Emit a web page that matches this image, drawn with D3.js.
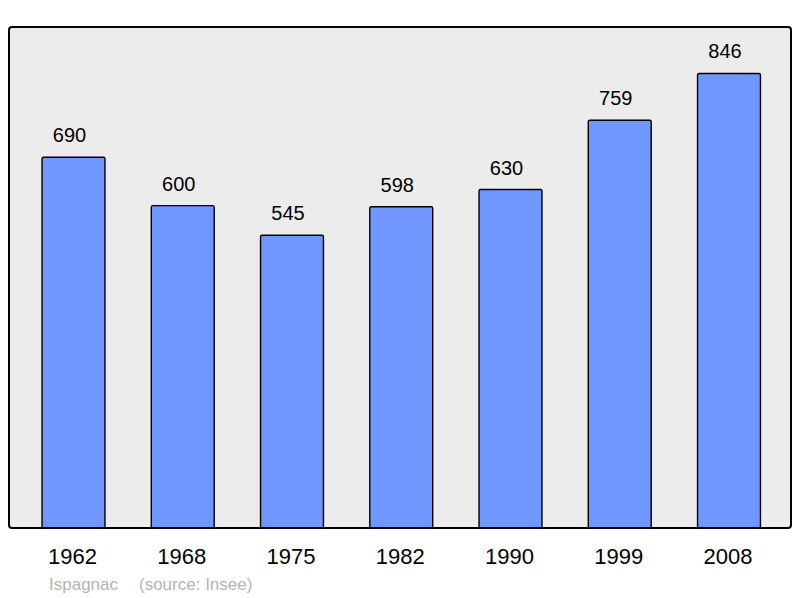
<!DOCTYPE html>
<html>
<head>
<style>
body { margin: 0; background: #fff; }
svg { display: block; font-family: "Liberation Sans", Arial, sans-serif; }
</style>
</head>
<body>
<svg id="chart" width="800" height="598"></svg>
<script src="https://d3js.org/d3.v7.min.js"></script>
<script>
    const years = ["1962", "1968", "1975", "1982", "1990", "1999", "2008"];
    const population = [690, 600, 545, 598, 630, 759, 846];
    const commune = "Ispagnac";
    const source = "(source: Insee)";

    const svg = d3.select("#chart");
    const frame = {left: 9, top: 27, right: 791, bottom: 528};

    const x = d3.scaleBand()
        .domain(years)
        .range([18, 784.5])
        .paddingInner(0.424)
        .paddingOuter(0.22);

    const y = d3.scaleLinear()
        .domain([0, d3.max(population) * 1.1])
        .range([frame.bottom, frame.top + 1]);

    // background panel
    svg.append("rect")
        .attr("x", frame.left)
        .attr("y", frame.top)
        .attr("width", frame.right - frame.left)
        .attr("height", frame.bottom - frame.top)
        .attr("rx", 3)
        .style("fill", "#ececec")
        .style("stroke", "none");

    const data = years.map((yr, i) => ({year: yr, value: population[i]}));

    svg.selectAll("rect.bar")
        .data(data)
        .enter()
        .append("rect")
        .attr("class", "bar")
        .attr("x", d => x(d.year))
        .attr("y", d => y(d.value))
        .attr("width", x.bandwidth())
        .attr("height", d => frame.bottom - y(d.value))
        .attr("rx", 1.5)
        .style("fill", "#7096ff")
        .style("stroke", "#000")
        .style("stroke-width", 1.4);

    svg.selectAll("text.value")
        .data(data)
        .enter()
        .append("text")
        .attr("class", "value")
        .attr("x", d => x(d.year) + x.bandwidth() / 2 - 4)
        .attr("y", d => y(d.value) - 15)
        .attr("text-anchor", "middle")
        .attr("font-size", "20px")
        .style("fill", "#000")
        .text(d => d.value);

    // border on top of bars
    svg.append("rect")
        .attr("x", frame.left)
        .attr("y", frame.top)
        .attr("width", frame.right - frame.left)
        .attr("height", frame.bottom - frame.top)
        .attr("rx", 3)
        .style("fill", "none")
        .style("stroke", "#000")
        .style("stroke-width", 2);

    const xAxis = svg.append("g")
        .attr("transform", `translate(-1,${frame.bottom})`)
        .call(d3.axisBottom(x).tickSize(0).tickPadding(0));
    xAxis.select(".domain").remove();
    xAxis.selectAll("text")
        .attr("y", 36)
        .attr("dy", 0)
        .attr("font-size", "22px")
        .attr("font-family", "Liberation Sans, Arial, sans-serif")
        .style("fill", "#000");

    svg.append("text")
        .attr("x", 49)
        .attr("y", 590)
        .attr("font-size", "17px")
        .style("fill", "#b4b4b4")
        .text(commune);

    svg.append("text")
        .attr("x", 139)
        .attr("y", 590)
        .attr("font-size", "17px")
        .style("fill", "#b4b4b4")
        .text(source);
</script>
</body>
</html>
